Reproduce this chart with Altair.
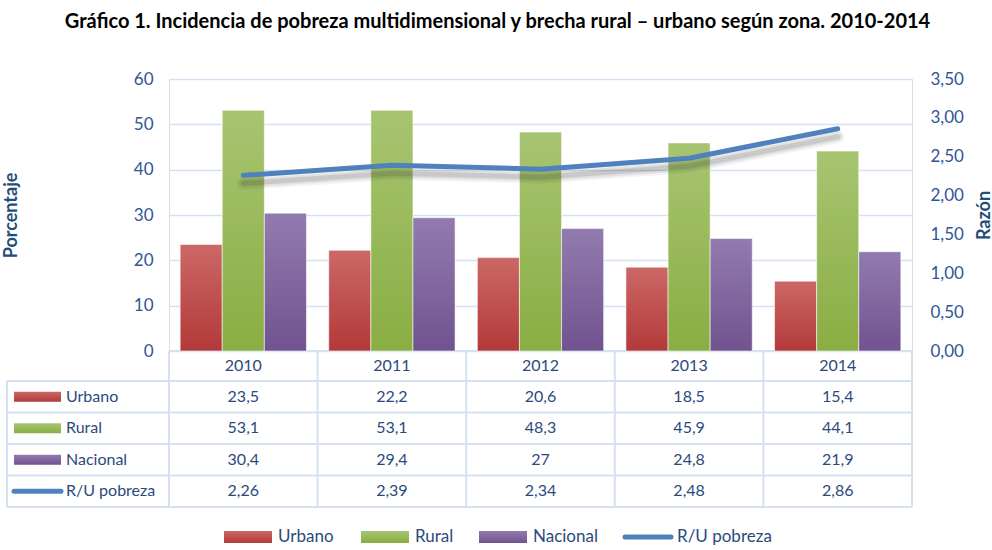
import altair as alt
import pandas as pd

# ---------------- data ----------------
years = ["2010", "2011", "2012", "2013", "2014"]
series = ["Urbano", "Rural", "Nacional"]
urbano = [23.5, 22.2, 20.6, 18.5, 15.4]
rural = [53.1, 53.1, 48.3, 45.9, 44.1]
nacional = [30.4, 29.4, 27.0, 24.8, 21.9]
ratio = [2.26, 2.39, 2.34, 2.48, 2.86]
ratio_name = "R/U pobreza"
title_text = "Gráfico 1. Incidencia de pobreza multidimensional y brecha rural – urbano según zona. 2010-2014"

# ---------------- style ----------------
FONT = "Lato"
W, H = 743, 272
STEP = W / len(years)
GRID = "#D5E1F1"
AXIS_COL = "#2F5597"
TXT_COL = "#2B4A7C"
TITLE_COL = "#1F4E79"
LINE_COL = "#4F81BD"
GRADS = {
    "Urbano": ("#CB6866", "#B3393A"),
    "Rural": ("#A7C571", "#8AAD43"),
    "Nacional": ("#927BAF", "#71538F"),
}


def grad(name):
    top, bot = GRADS[name]
    return alt.Gradient(
        gradient="linear", x1=0, y1=0, x2=0, y2=1,
        stops=[alt.GradientStop(color=top, offset=0),
               alt.GradientStop(color=bot, offset=1)],
    )


def fmt(v):
    return f"{v:g}".replace(".", ",")


values = {"Urbano": urbano, "Rural": rural, "Nacional": nacional}
bars = pd.DataFrame(
    [{"year": y, "series": s, "value": values[s][i]}
     for s in series for i, y in enumerate(years)]
)
line_df = pd.DataFrame({"year": years, "ratio": ratio})

X = alt.X(
    "year:N",
    scale=alt.Scale(domain=years, paddingInner=0.15, paddingOuter=0.075),
    axis=alt.Axis(title=None, labelAngle=0, labelFont=FONT, labelFontSize=16,
                  labelColor=TXT_COL, labelPadding=6, ticks=False,
                  domain=False, grid=False),
)

Y_LEFT = alt.Y(
    "value:Q",
    scale=alt.Scale(domain=[0, 60], nice=False),
    axis=alt.Axis(values=[0, 10, 20, 30, 40, 50, 60], title="Porcentaje",
                  grid=True, gridColor=GRID, gridWidth=1.5, domain=False,
                  ticks=False, labelPadding=16, labelFont=FONT,
                  labelFontSize=17, labelColor=AXIS_COL,
                  titleFont=FONT, titleFontSize=18, titleFontWeight="bold",
                  titleColor=TITLE_COL, titleAngle=270, titleX=-158,
                  titleY=H / 2, titleAlign="center", titleBaseline="middle"),
)

Y_RIGHT = alt.Y(
    "ratio:Q",
    scale=alt.Scale(domain=[0, 3.5], nice=False),
    axis=alt.Axis(orient="right", values=[0, 0.5, 1, 1.5, 2, 2.5, 3, 3.5],
                  labelExpr="replace(format(datum.value, '.2f'), '.', ',')",
                  title="Razón", grid=False, domain=False, ticks=False,
                  labelPadding=18, labelFont=FONT, labelFontSize=17,
                  labelColor=AXIS_COL, titleFont=FONT, titleFontSize=18,
                  titleFontWeight="bold", titleColor=TITLE_COL,
                  titleAngle=270, titleX=72, titleY=H / 2,
                  titleAlign="center", titleBaseline="middle"),
)

XOFF = alt.XOffset("series:N", scale=alt.Scale(domain=series))

bar_layers = []
for s in series:
    bar_layers.append(
        alt.Chart(bars[bars.series == s]).mark_bar(
            color=grad(s), stroke="white", strokeOpacity=0.55, strokeWidth=1
        ).encode(x=X, xOffset=XOFF, y=Y_LEFT)
    )
left = alt.layer(*bar_layers)

line_layers = []
for w, op in [(13, 0.06), (9, 0.09), (5, 0.14)]:
    line_layers.append(
        alt.Chart(line_df).mark_line(color="#333333", strokeWidth=w,
                                     opacity=op, yOffset=8, strokeCap="round")
        .encode(x=X, y=Y_RIGHT)
    )
line_layers.append(
    alt.Chart(line_df).mark_line(color=LINE_COL, strokeWidth=5,
                                 strokeCap="round", strokeJoin="round")
    .encode(x=X, y=Y_RIGHT)
)
right = alt.layer(*line_layers)

# ---------------- data table ----------------
rows = series + [ratio_name]
row_vals = {"Urbano": urbano, "Rural": rural, "Nacional": nacional,
            ratio_name: ratio}
table = pd.DataFrame(
    [{"year": y, "row": r, "txt": fmt(row_vals[r][i])}
     for r in rows for i, y in enumerate(years)]
)
ROW_TOP = H + 30
ROW_H = 31.5
row_centers = [ROW_TOP + ROW_H * (k + 0.5) for k in range(len(rows))]
Y_ROW = alt.Y("row:N", scale=alt.Scale(type="point", domain=rows,
                                       range=[row_centers[0], row_centers[-1]],
                                       padding=0), axis=None)

cells = alt.Chart(table).mark_text(
    font=FONT, fontSize=16, color=TXT_COL, baseline="middle", align="center"
).encode(x=X, y=Y_ROW, text="txt:N")

labels_df = pd.DataFrame({"row": rows})
row_labels = alt.Chart(labels_df).mark_text(
    font=FONT, fontSize=16, color=TXT_COL, baseline="middle", align="left"
).encode(x=alt.value(-103), y=Y_ROW, text="row:N")

# table grid
LEFT_EDGE = -162
TABLE_BOTTOM = ROW_TOP + ROW_H * len(rows)
hlines = pd.DataFrame({
    "x": [0] + [LEFT_EDGE] * (len(rows) + 1),
    "x2": [W] * (len(rows) + 2),
    "y": [H] + [ROW_TOP + ROW_H * k for k in range(len(rows) + 1)],
})
vlines = pd.DataFrame({
    "x": [LEFT_EDGE] + [STEP * k for k in range(len(years) + 1)],
    "y": [ROW_TOP] + [H] * (len(years) + 1),
})
vlines["x2"] = vlines["x"]
vlines["y2"] = TABLE_BOTTOM
hlines["y2"] = hlines["y"]
grid_df = pd.concat([hlines, vlines], ignore_index=True)
grid = alt.Chart(grid_df).mark_rule(color=GRID, strokeWidth=2).encode(
    x=alt.X("x:Q", scale=None), x2="x2:Q",
    y=alt.Y("y:Q", scale=None), y2="y2:Q",
)

# swatches in table and bottom legend
LEG_Y = 458
leg_x = {"Urbano": 55, "Rural": 192, "Nacional": 310, ratio_name: 454}
sw_layers = []
for k, s in enumerate(series):
    yc = row_centers[k]
    sw = pd.DataFrame({
        "x": [-155, leg_x[s]], "x2": [-108, leg_x[s] + 48],
        "y": [yc - 5, LEG_Y - 6], "y2": [yc + 5, LEG_Y + 6],
    })
    sw_layers.append(
        alt.Chart(sw).mark_rect(color=grad(s)).encode(
            x=alt.X("x:Q", scale=None), x2="x2:Q",
            y=alt.Y("y:Q", scale=None), y2="y2:Q")
    )
lsw = pd.DataFrame({
    "x": [-155, leg_x[ratio_name] + 2], "x2": [-108, leg_x[ratio_name] + 48],
    "y": [row_centers[3], LEG_Y], "y2": [row_centers[3], LEG_Y],
})
sw_layers.append(
    alt.Chart(lsw).mark_rule(color=LINE_COL, strokeWidth=5, strokeCap="round")
    .encode(x=alt.X("x:Q", scale=None), x2="x2:Q",
            y=alt.Y("y:Q", scale=None), y2="y2:Q")
)
leg_txt = pd.DataFrame({"name": rows, "x": [leg_x[r] + 54 for r in rows]})
sw_layers.append(
    alt.Chart(leg_txt).mark_text(font=FONT, fontSize=17, color=TXT_COL,
                                 align="left", baseline="middle")
    .encode(x=alt.X("x:Q", scale=None), y=alt.value(LEG_Y), text="name:N")
)

chart = alt.layer(
    grid, left, right, cells, row_labels, *sw_layers
).resolve_scale(y="independent").properties(
    width=W, height=H,
    autosize=alt.AutoSizeParams(type="none"),
    padding={"left": 169, "top": 79, "right": 80, "bottom": 199},
    title=alt.TitleParams(text=title_text, font=FONT, fontSize=20,
                          fontWeight="bold", color="black", anchor="middle",
                          dx=-43, offset=38),
).configure_view(stroke=None).configure(background="white")

chart.save("out.html", embed_options={"renderer": "svg", "actions": False})
